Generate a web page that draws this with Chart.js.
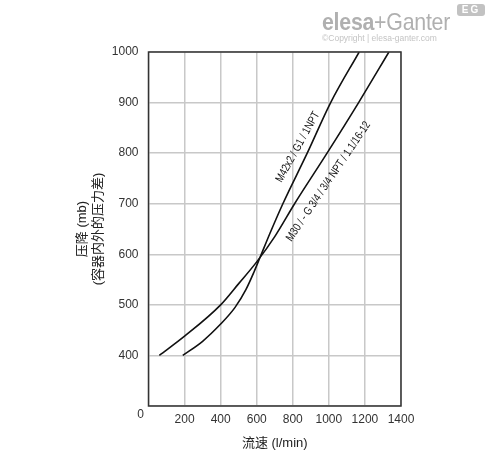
<!DOCTYPE html>
<html><head><meta charset="utf-8">
<script src="https://cdn.jsdelivr.net/npm/chart.js@4"></script>
<style>
html,body{margin:0;padding:0;background:#fff;}
#wrap{position:relative;width:488px;height:454px;overflow:hidden;}
#c{position:absolute;left:0;top:0;}
.logo{position:absolute;left:322px;top:9px;font-family:"Liberation Sans",Arial,sans-serif;font-size:24px;line-height:26px;color:#b0b0b0;white-space:nowrap;transform:scaleX(0.89);transform-origin:left top;letter-spacing:-0.3px;}
.logo b{font-weight:bold;}
.copy{position:absolute;left:322px;top:33px;font-family:"Liberation Sans",Arial,sans-serif;font-size:8.5px;line-height:10px;color:#c4c4c4;white-space:nowrap;}
.eg{position:absolute;left:457px;top:4px;width:28px;height:12px;background:#c2c2c2;border-radius:3px;color:#fff;font-family:"Liberation Sans",Arial,sans-serif;font-weight:bold;font-size:10px;line-height:12px;text-align:center;letter-spacing:2px;}
</style></head>
<body>
<div id="wrap">
<canvas id="c" width="488" height="454"></canvas>
<div class="logo"><b>elesa</b>+Ganter</div>
<div class="copy">©Copyright | elesa-ganter.com</div>
<div class="eg">EG</div>
</div>
<script>
// Curve M42x2 / G1 / 1NPT
const flowA  = [190, 300, 400, 480, 540, 585, 622, 680, 745, 880, 1010, 1168];
const pressA = [400, 428, 462, 495, 530, 565, 597, 647, 700, 800, 900, 1000];
// Curve M30 / - G 3/4 / 3/4 NPT / 1.1/16-12
const flowB  = [60, 200, 400, 500, 600, 700, 810, 990, 1165, 1333];
const pressB = [400, 438, 500, 542, 585, 635, 700, 800, 900, 1000];

const xTicks = [0, 200, 400, 600, 800, 1000, 1200, 1400];
const yTicks = [300, 400, 500, 600, 700, 800, 900, 1000];
const curveNames = ['M42x2 / G1 / 1NPT', 'M30 / - G 3/4 / 3/4 NPT / 1.1/16-12'];
const labelFlow  = [828, 998];
const labelPress = [812, 744];
const labelAngle = [-61, -56];
const xTitle = '流速 (l/min)';
const yTitle = ['压降 (mb)', '(容器内外的压力差)'];

const FAM = '"Liberation Sans","Noto Sans CJK SC",Arial,sans-serif';

const decor = {
  id: 'decor',
  afterDraw(chart) {
    const {ctx, chartArea: a, scales: {x, y}} = chart;
    ctx.save();
    ctx.strokeStyle = '#333';
    ctx.lineWidth = 1.5;
    ctx.strokeRect(a.left, a.top, a.right - a.left, a.bottom - a.top);
    ctx.fillStyle = '#333';
    ctx.font = '12px ' + FAM;
    ctx.textAlign = 'center';
    ctx.textBaseline = 'middle';
    ctx.fillText('0', a.left - 8, a.bottom + 9);
    ctx.fillStyle = '#111';
    ctx.font = '11.5px ' + FAM;
    curveNames.forEach((t, i) => {
      ctx.save();
      ctx.translate(x.getPixelForValue(labelFlow[i]), y.getPixelForValue(labelPress[i]));
      ctx.rotate(labelAngle[i] * Math.PI / 180);
      ctx.scale(0.8, 1);
      ctx.fillText(t, 0, 0);
      ctx.restore();
    });
    ctx.restore();
  }
};

const mk = (xs, ys) => xs.map((v, i) => ({x: v, y: ys[i]}));

new Chart(document.getElementById('c'), {
  type: 'scatter',
  data: {
    datasets: [
      {data: mk(flowA, pressA), showLine: true, borderColor: '#111', borderWidth: 1.6, pointRadius: 0, cubicInterpolationMode: 'monotone'},
      {data: mk(flowB, pressB), showLine: true, borderColor: '#111', borderWidth: 1.6, pointRadius: 0, cubicInterpolationMode: 'monotone'}
    ]
  },
  options: {
    responsive: false,
    animation: false,
    layout: {padding: {top: 52, right: 87, bottom: 0, left: 0}},
    plugins: {legend: {display: false}, tooltip: {enabled: false}},
    scales: {
      x: {
        type: 'linear', min: 0, max: 1400,
        afterBuildTicks: s => { s.ticks = xTicks.map(v => ({value: v})); },
        afterFit: s => { s.height = 48; },
        grid: {color: '#c8c8c8', lineWidth: 1.5, drawTicks: false},
        border: {display: false},
        ticks: {padding: 6, color: '#333', autoSkip: false, maxRotation: 0,
                font: {family: FAM, size: 12},
                callback: v => v === 0 ? '' : String(v)},
        title: {display: true, text: xTitle, color: '#222', font: {family: FAM, size: 13}, padding: {top: 0, bottom: 3}}
      },
      y: {
        type: 'linear', min: 300, max: 1000,
        afterBuildTicks: s => { s.ticks = yTicks.map(v => ({value: v})); },
        afterFit: s => { s.width = 148.5; },
        grid: {color: '#c8c8c8', lineWidth: 1.5, drawTicks: false},
        border: {display: false},
        ticks: {padding: 10, color: '#333', autoSkip: false,
                font: {family: FAM, size: 12},
                callback: v => v === 300 ? '' : String(v)},
        title: {display: true, text: yTitle, color: '#222', font: {family: FAM, size: 13, lineHeight: '16px'}, padding: {top: 74, bottom: 0}}
      }
    }
  },
  plugins: [decor]
});
</script>
</body></html>
